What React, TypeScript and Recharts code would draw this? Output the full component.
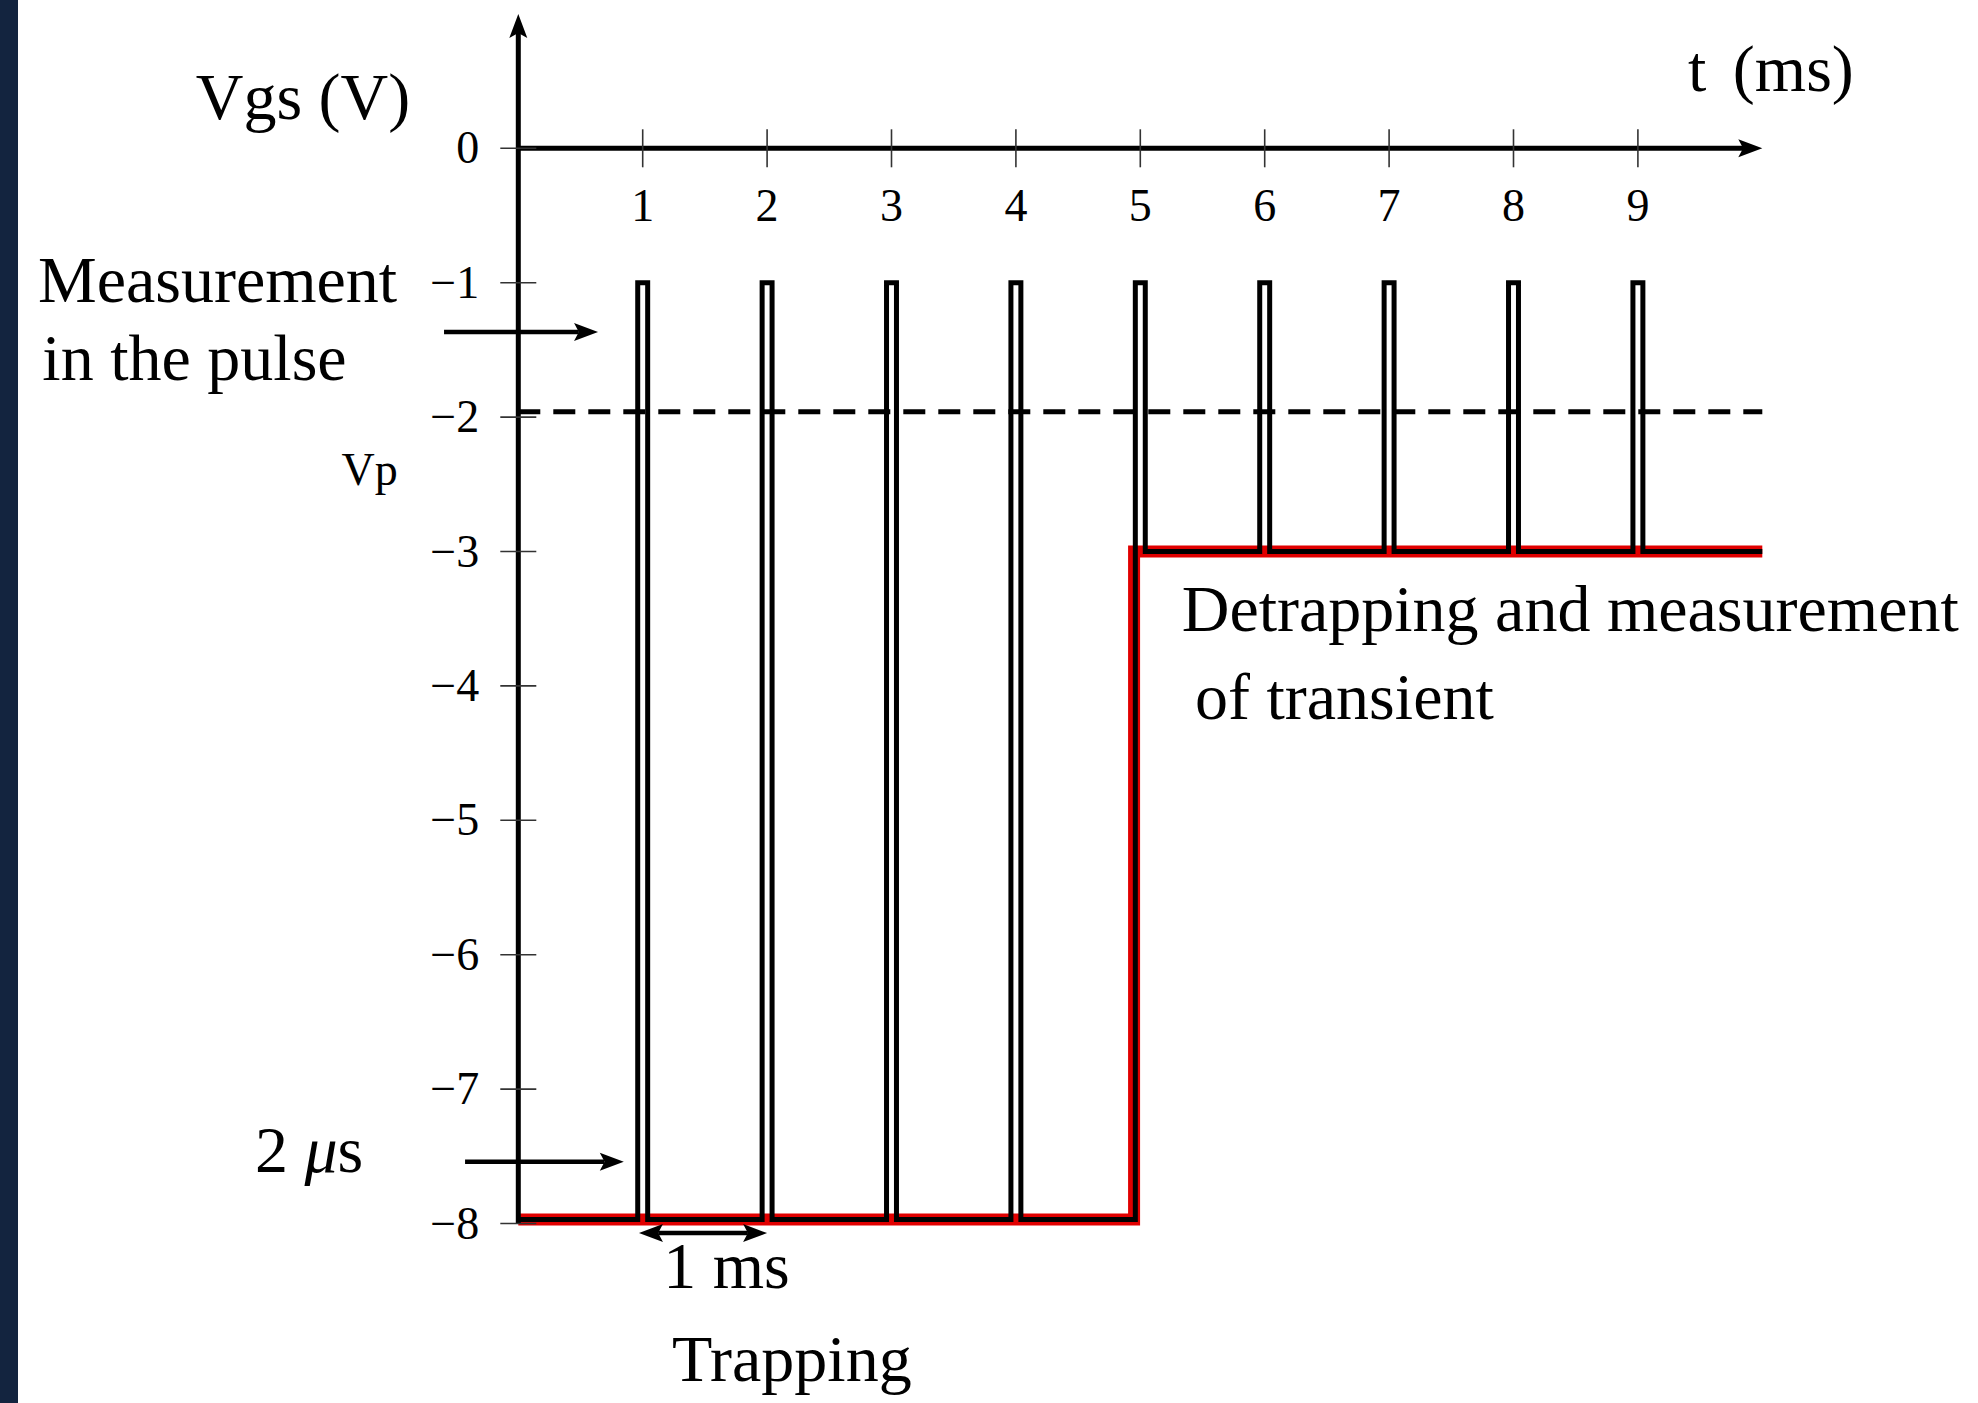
import { Line, LineChart, ReferenceDot, ReferenceLine, XAxis, YAxis } from "recharts";

const SERIF = '"Liberation Serif", "DejaVu Serif", serif';

// axis ticks
const timeTicks = [1, 2, 3, 4, 5, 6, 7, 8, 9];
const voltTicks = [0, -1, -2, -3, -4, -5, -6, -7, -8];

// gate pulses (ms / V)
const pulseRise = [0.96, 1.96, 2.96, 3.96, 4.96, 5.96, 6.96, 7.96, 8.96];
const pulseFall = [1.04, 2.04, 3.04, 4.04, 5.04, 6.04, 7.04, 8.04, 9.04];
const pulseTop = [-1, -1, -1, -1, -1, -1, -1, -1, -1];
const baseBefore = [-7.97, -7.97, -7.97, -7.97, -7.97, -3, -3, -3, -3];
const baseAfter = [-7.97, -7.97, -7.97, -7.97, -3, -3, -3, -3, -3];
const traceStart = { t: 0, v: -7.97 };
const traceEnd = { t: 10, v: -3 };

// quiescent bias (red)
const biasT = [0, 4.95, 4.95, 10];
const biasV = [-7.97, -7.97, -3, -3];

// pinch-off level
const vp = -1.96;

const trace = [traceStart];
pulseRise.forEach((rise, i) => {
  trace.push(
    { t: rise, v: baseBefore[i] },
    { t: rise, v: pulseTop[i] },
    { t: pulseFall[i], v: pulseTop[i] },
    { t: pulseFall[i], v: baseAfter[i] }
  );
});
trace.push(traceEnd);

const bias = biasT.map((t, i) => ({ t, v: biasV[i] }));

// annotations, in chart units
const notes = [
  { text: "Vgs (V)", x: -2.593, y: 0.218, anchor: "start", size: 66 },
  { text: "t (ms)", x: 9.403, y: 0.429, anchor: "start", size: 66 },
  { text: "Measurement", x: -3.861, y: -1.141, anchor: "start", size: 66 },
  { text: "in the pulse", x: -3.826, y: -1.724, anchor: "start", size: 66 },
  { text: "Vp", x: -1.421, y: -2.505, anchor: "start", size: 46 },
  { text: "Detrapping and measurement", x: 5.333, y: -3.589, anchor: "start", size: 66 },
  { text: "of transient", x: 5.44, y: -4.249, anchor: "start", size: 66 },
  { text: "2 μs", x: -2.117, y: -7.615, anchor: "start", size: 66 },
  { text: "1 ms", x: 1.674, y: -8.48, anchor: "middle", size: 66 },
  { text: "Trapping", x: 2.199, y: -9.17, anchor: "middle", size: 66 },
];

const arrows = [
  { x1: 0, y1: -8, x2: 0, y2: 1, both: false, w: 5 },
  { x1: 0, y1: 0, x2: 10, y2: 0, both: false, w: 5 },
  { x1: -0.597, y1: -1.367, x2: 0.641, y2: -1.367, both: false, w: 4.5 },
  { x1: -0.428, y1: -7.54, x2: 0.848, y2: -7.54, both: false, w: 4.5 },
  { x1: 0.97, y1: -8.071, x2: 2.0, y2: -8.071, both: true, w: 4.5 },
];

function arrowShape(both: boolean, width: number) {
  return (p: any) => {
    const { x1, y1, x2, y2 } = p;
    const len = Math.hypot(x2 - x1, y2 - y1) || 1;
    const ux = (x2 - x1) / len;
    const uy = (y2 - y1) / len;
    const nx = -uy;
    const ny = ux;
    const L = 24;
    const H = 9;
    const head = (tx: number, ty: number, dx: number, dy: number) =>
      `M${tx},${ty} L${tx - dx * L + nx * H},${ty - dy * L + ny * H} L${tx - dx * L * 0.8},${ty - dy * L * 0.8} L${tx - dx * L - nx * H},${ty - dy * L - ny * H} Z`;
    const sx = both ? x1 + ux * L * 0.8 : x1;
    const sy = both ? y1 + uy * L * 0.8 : y1;
    return (
      <g>
        <line x1={sx} y1={sy} x2={x2 - ux * L * 0.8} y2={y2 - uy * L * 0.8} stroke="#000" strokeWidth={width} />
        <path d={head(x2, y2, ux, uy)} fill="#000" />
        {both && <path d={head(x1, y1, -ux, -uy)} fill="#000" />}
      </g>
    );
  };
}

function noteShape(text: string, anchor: string, size: number) {
  return (p: any) => {
    const parts = text.split("μ");
    return (
      <text x={p.cx} y={p.cy} textAnchor={anchor as any} fontFamily={SERIF} fontSize={size} fill="#000" wordSpacing={text.startsWith("t ") ? 10 : 0}>
        {parts.length > 1 ? (
          <>
            {parts[0]}
            <tspan fontStyle="italic">μ</tspan>
            {parts[1]}
          </>
        ) : (
          text
        )}
      </text>
    );
  };
}

function TimeTick({ x, y, payload }: any) {
  return (
    <g>
      <line x1={x} x2={x} y1={y - 19} y2={y + 19} stroke="#333" strokeWidth={1.6} />
      <text x={x} y={y + 73} textAnchor="middle" fontFamily={SERIF} fontSize={46} fill="#000">
        {payload.value}
      </text>
    </g>
  );
}

function VoltTick({ x, y, payload }: any) {
  const v = payload.value;
  const label = v === 0 ? "0" : `\u2212${-v}`;
  return (
    <g>
      <line x1={x - 18} x2={x + 18} y1={y} y2={y} stroke="#333" strokeWidth={1.6} />
      <text x={x - 39} y={y + 15} textAnchor="end" fontFamily={SERIF} fontSize={46} fill="#000">
        {label}
      </text>
    </g>
  );
}

export default function App() {
  return (
    <div style={{ position: "absolute", left: 0, top: 0, width: 1978, height: 1403, background: "#fff" }}>
      <div style={{ position: "absolute", left: 0, top: 0, width: 18, height: 1403, background: "#13243f" }} />
      <LineChart
        width={1978}
        height={1403}
        margin={{ top: 118.3, right: 215.7, bottom: 179.5, left: 458.3 }}
      >
        <XAxis
          dataKey="t"
          type="number"
          orientation="top"
          domain={[0, 10]}
          ticks={timeTicks}
          interval={0}
          height={30}
          axisLine={false}
          tickLine={false}
          tickSize={0}
          tickMargin={0}
          tick={<TimeTick />}
        />
        <YAxis
          type="number"
          domain={[-8, 0]}
          ticks={voltTicks}
          interval={0}
          width={60}
          axisLine={false}
          tickLine={false}
          tickSize={0}
          tickMargin={0}
          tick={<VoltTick />}
        />
        <ReferenceLine y={vp} stroke="#000" strokeWidth={5} strokeDasharray="22 13" />
        <Line
          data={bias}
          dataKey="v"
          type="linear"
          stroke="#e00000"
          strokeWidth={12}
          strokeLinejoin="miter"
          dot={false}
          activeDot={false}
          isAnimationActive={false}
        />
        <Line
          data={trace}
          dataKey="v"
          type="linear"
          stroke="#000"
          strokeWidth={5}
          strokeLinejoin="miter"
          dot={false}
          activeDot={false}
          isAnimationActive={false}
        />
        {arrows.map((a, i) => (
          <ReferenceLine
            key={`arrow-${i}`}
            segment={[
              { x: a.x1, y: a.y1 },
              { x: a.x2, y: a.y2 },
            ]}
            ifOverflow="visible"
            shape={arrowShape(a.both, a.w)}
          />
        ))}
        {notes.map((n) => (
          <ReferenceDot
            key={n.text}
            x={n.x}
            y={n.y}
            r={0}
            ifOverflow="visible"
            shape={noteShape(n.text, n.anchor, n.size)}
          />
        ))}
      </LineChart>
    </div>
  );
}
